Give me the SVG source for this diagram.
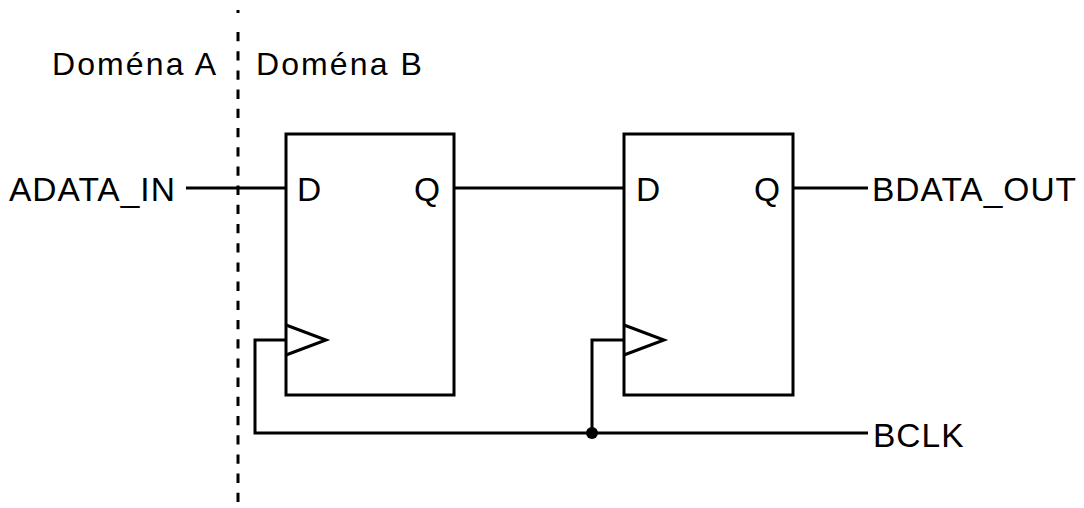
<svg xmlns="http://www.w3.org/2000/svg" width="1084" height="508" viewBox="0 0 1084 508">
<style>
.t{font-family:"Liberation Sans",Arial,sans-serif;font-size:33.5px;letter-spacing:1.0px;fill:#000}
.h{font-size:32px;letter-spacing:2.1px}
.w{fill:none;stroke:#000;stroke-width:3}
.box{fill:#fff;stroke:#000;stroke-width:3}
</style>
<rect width="1084" height="508" fill="#fff"/>
<g id="divider">
<path d="M238 10V13M238 32V508" fill="none" stroke="#000" stroke-width="3" stroke-dasharray="9.3 9.9"/>
<text class="t h" x="52" y="75">Doména A</text>
<text class="t h" x="256" y="75">Doména B</text>
</g>
<g id="connectors">
<polyline class="w" points="186,188 286,188"/>
<polyline class="w" points="454,188 624,188"/>
<polyline class="w" points="793,188 868,188"/>
<polyline class="w" points="286,340 255,340 255,433 868,433"/>
<polyline class="w" points="624,340 592,340 592,433"/>
<circle cx="592" cy="433" r="6" fill="#000"/>
</g>
<g id="ff1">
<rect class="box" x="286" y="134" width="168" height="261"/>
<polyline class="w" points="286,325 326,340 286,355"/>
<text class="t" x="297" y="201">D</text>
<text class="t" x="414" y="201">Q</text>
</g>
<g id="ff2">
<rect class="box" x="624" y="134" width="169" height="261"/>
<polyline class="w" points="624,325 664,340 624,355"/>
<text class="t" x="636" y="201">D</text>
<text class="t" x="754" y="201">Q</text>
</g>
<g id="labels">
<text class="t" x="9" y="201">ADATA_IN</text>
<text class="t" x="872" y="201">BDATA_OUT</text>
<text class="t" x="873" y="447">BCLK</text>
</g>
</svg>
